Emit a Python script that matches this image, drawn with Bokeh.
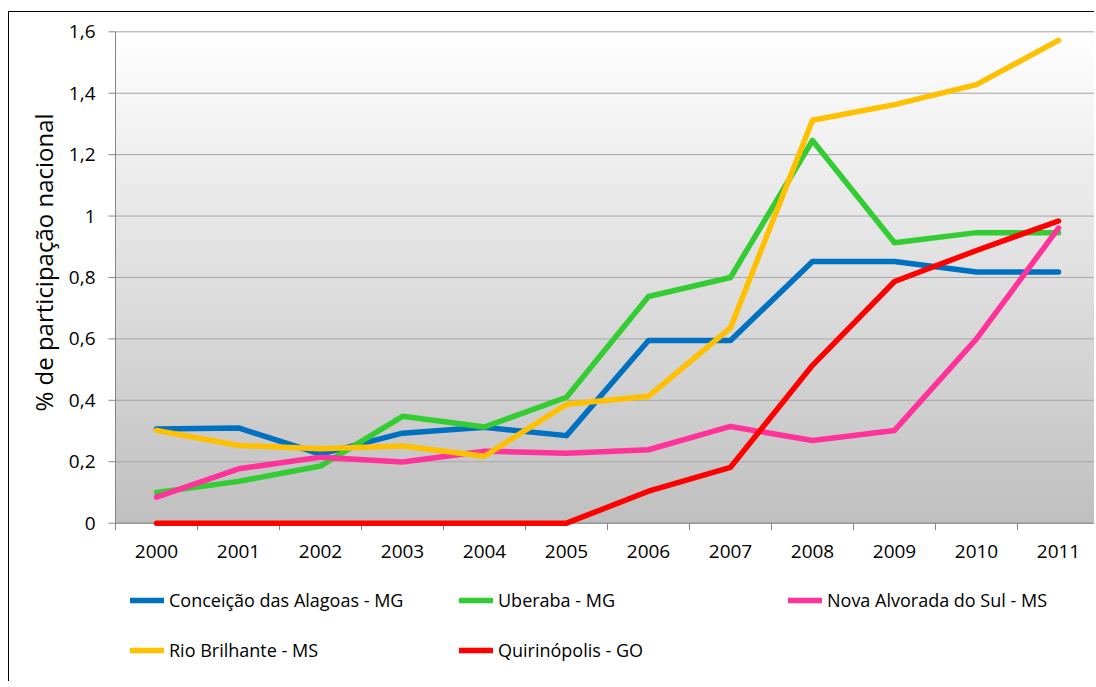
import numpy as np
from bokeh.plotting import figure
from bokeh.models import Legend, LegendItem, Range1d
from bokeh.core.properties import value
from bokeh.embed import file_html
from bokeh.resources import INLINE

years = [2000, 2001, 2002, 2003, 2004, 2005, 2006, 2007, 2008, 2009, 2010, 2011]
year_labels = ["2000", "2001", "2002", "2003", "2004", "2005", "2006", "2007",
               "2008", "2009", "2010", "2011"]

conceicao = [0.307, 0.310, 0.225, 0.293, 0.312, 0.285, 0.595, 0.595, 0.852, 0.852, 0.818, 0.818]
uberaba = [0.100, 0.136, 0.186, 0.348, 0.313, 0.410, 0.738, 0.800, 1.246, 0.913, 0.946, 0.946]
nova_alvorada = [0.085, 0.177, 0.215, 0.199, 0.234, 0.228, 0.239, 0.315, 0.269, 0.302, 0.600, 0.961]
rio_brilhante = [0.302, 0.253, 0.242, 0.251, 0.218, 0.387, 0.413, 0.636, 1.312, 1.363, 1.428, 1.572]
quirinopolis = [0.0, 0.0, 0.0, 0.0, 0.0, 0.0, 0.104, 0.182, 0.514, 0.787, 0.888, 0.984]

series_names = ["Conceição das Alagoas - MG", "Uberaba - MG", "Nova Alvorada do Sul - MS",
                "Rio Brilhante - MS", "Quirinópolis - GO"]
series_values = [conceicao, uberaba, nova_alvorada, rio_brilhante, quirinopolis]
series_colors = ["#0070C0", "#33CC33", "#FF3399", "#FFC000", "#FF0000"]

y_ticks = [0.0, 0.2, 0.4, 0.6, 0.8, 1.0, 1.2, 1.4, 1.6]
y_tick_labels = ["0", "0,2", "0,4", "0,6", "0,8", "1", "1,2", "1,4", "1,6"]
y_title = "% de participação nacional"

FONT = "Open Sans"
W, H = 1086, 670
PX_X = 82.0            # pixels per year
PX_Y = 307.1           # pixels per unit of y
LEFT_PAD = 106         # canvas px left of the plot area
TOP_PAD = 19.3         # canvas px above the plot area

x0 = years[0] - 0.5
x1 = years[-1] + 0.5
y_top = y_ticks[-1]
x_start = x0 - LEFT_PAD / PX_X
x_end = x_start + W / PX_X
y_end = y_top + TOP_PAD / PX_Y
y_start = y_end - H / PX_Y

p = figure(width=W, height=H, output_backend="svg", toolbar_location=None,
           x_range=Range1d(x_start, x_end), y_range=Range1d(y_start, y_end),
           x_axis_location=None, y_axis_location=None,
           min_border_left=0, min_border_right=0, min_border_top=0, min_border_bottom=0)
p.margin = (11, 0, 0, 8)
p.styles = {"border-left": "1px solid #000", "border-top": "1px solid #000"}
p.outline_line_color = None
p.background_fill_color = "white"
p.border_fill_color = "white"
p.grid.visible = False

# vertical gradient background of the plot area
n = 256
shade = np.linspace(192, 255, n).astype(np.uint32)
img = np.empty((n, 1), dtype=np.uint32)
view = img.view(dtype=np.uint8).reshape((n, 1, 4))
view[:, 0, 0] = shade
view[:, 0, 1] = shade
view[:, 0, 2] = shade
view[:, 0, 3] = 255
p.image_rgba(image=[img], x=x0, y=0, dw=x1 - x0, dh=y_top)

# horizontal gridlines
p.segment(x0=[x0] * len(y_ticks), y0=y_ticks, x1=[x_end + 1] * len(y_ticks), y1=y_ticks,
          line_color="#A6A6A6", line_width=1)

# y axis: line, ticks, labels
tick_len_x = 7 / PX_X
p.segment(x0=[x0], y0=[0], x1=[x0], y1=[y_top], line_color="#868686", line_width=1)
p.segment(x0=[x0 - tick_len_x] * len(y_ticks), y0=y_ticks, x1=[x0] * len(y_ticks), y1=y_ticks,
          line_color="#868686", line_width=1)
p.text(x=[x0 - 20 / PX_X] * len(y_ticks), y=y_ticks, text=y_tick_labels,
       text_font=value(FONT), text_font_size=value("19px"), text_color="#000000",
       text_align="right", text_baseline="middle")

# x axis: line, ticks between categories, labels
tick_len_y = 7 / PX_Y
bounds = [y - 0.5 for y in years] + [years[-1] + 0.5]
p.segment(x0=[x0], y0=[0], x1=[x_end + 1], y1=[0], line_color="#868686", line_width=1)
p.segment(x0=bounds, y0=[0] * len(bounds), x1=bounds, y1=[-tick_len_y] * len(bounds),
          line_color="#868686", line_width=1)
p.text(x=years, y=[-28.5 / PX_Y] * len(years), text=year_labels,
       text_font=value(FONT), text_font_size=value("19px"), text_color="#000000",
       text_align="center", text_baseline="middle")

# y axis title
p.text(x=[x0 - 72 / PX_X], y=[(522.7 - 262) / PX_Y], text=[y_title], angle=np.pi / 2,
       text_font=value(FONT), text_font_size=value("24px"), text_color="#000000",
       text_align="center", text_baseline="middle")

# series lines
renderers = {}
for name, vals, col in zip(series_names, series_values, series_colors):
    renderers[name] = p.line(years, vals, line_color=col, line_width=5.5,
                             line_cap="round", line_join="round")

# legend fills column by column: order so rows read like the reference
legend_order = [series_names[0], series_names[3], series_names[1], series_names[4], series_names[2]]
items = [LegendItem(label=nm, renderers=[renderers[nm]]) for nm in legend_order]

legend = Legend(items=items, ncols=3, location=(121, 7),
                glyph_width=34, glyph_height=50, label_height=50, label_width=290,
                label_standoff=5, spacing=0, padding=0, margin=0,
                border_line_color=None, background_fill_alpha=0,
                label_text_font=FONT, label_text_font_size="18px",
                label_text_color="#000000")
p.add_layout(legend, "center")

open("out.html", "w").write(file_html(p, INLINE))
